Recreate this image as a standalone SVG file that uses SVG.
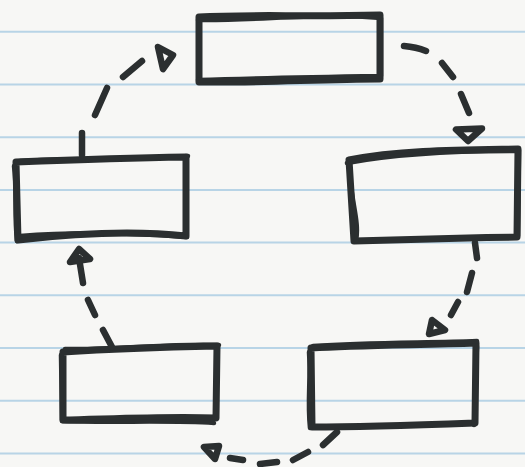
<svg xmlns="http://www.w3.org/2000/svg" width="525" height="467" viewBox="0 0 525 467">
<style>
.rule{stroke:#b8d4e6;stroke-width:2}
.box{fill:none;stroke:#2b2f30;stroke-width:7;stroke-linejoin:round;stroke-linecap:round}
.box2{fill:none;stroke:#2b2f30;stroke-width:4.5;stroke-linejoin:round;stroke-linecap:round}
.dash{fill:none;stroke:#2b2f30;stroke-width:6.5;stroke-linecap:round}
.head{fill:none;stroke:#2b2f30;stroke-width:6.5;stroke-linejoin:round}
</style>
<rect width="525" height="467" fill="#f7f7f5"/>
<g id="paper">
<line class="rule" x1="0" y1="31.8" x2="525" y2="31.8"/>
<line class="rule" x1="0" y1="84.5" x2="525" y2="84.5"/>
<line class="rule" x1="0" y1="137.2" x2="525" y2="137.2"/>
<line class="rule" x1="0" y1="189.9" x2="525" y2="189.9"/>
<line class="rule" x1="0" y1="242.6" x2="525" y2="242.6"/>
<line class="rule" x1="0" y1="295.3" x2="525" y2="295.3"/>
<line class="rule" x1="0" y1="348" x2="525" y2="348"/>
<line class="rule" x1="0" y1="400.7" x2="525" y2="400.7"/>
<line class="rule" x1="0" y1="453.4" x2="525" y2="453.4"/>
</g>
<g id="box-top">
<path class="box" d="M199,17 C250,14 300,17 380,15 L380,79 C320,79 260,83 199,82 Z"/>
<path class="box2" d="M198,20 C260,21 320,12 381,18 L381,76 C320,77 260,78 198,80"/>
</g>
<g id="box-right">
<path class="box" d="M349,160 C400,150 460,150 518,149 L517,237 C460,238 400,240 354,241 Z"/>
<path class="box2" d="M347,163 C400,153 460,151 516,151 M349,162 C350,200 360,220 356,241 M519,150 L518,236"/>
</g>
<g id="box-left">
<path class="box" d="M16,162 C70,160 130,158 186,157 L186,236 C130,230 70,234 18,240 Z"/>
<path class="box2" d="M14,166 C17,190 14,215 17,241 M20,161 C70,158 140,160 188,156 M20,236 C70,232 130,233 187,237"/>
</g>
<g id="box-bottom-left">
<path class="box" d="M63,352 C110,349 170,347 217,346 L216,418 C170,416 110,419 63,420 Z"/>
<path class="box2" d="M61,355 L62,420 M65,349 C120,350 170,343 219,345 M62,421 C110,423 170,420 214,423"/>
</g>
<g id="box-bottom-right">
<path class="box" d="M311,348 C360,345 420,345 476,343 L475,423 C420,425 360,427 312,427 Z"/>
<path class="box2" d="M309,352 C311,380 307,400 310,428 M313,346 C370,342 430,343 477,341 M477,346 L474,425"/>
</g>
<g id="connectors">
<path class="dash" d="M82,155 L82,133 M107,88 L95,115 M142,61 L123,77"/>
<path class="head" d="M158,47 L173,55 L163,69 Z"/>
<path class="dash" d="M404,46 Q416,47 426,51 M442,63 L453,77 M461,94 L469,113"/>
<path class="head" d="M456,129.5 L482,128.5 L468,141 Z"/>
<path class="dash" d="M475,243 L477,258 M472,273 L467,292 M458,302 L451,315"/>
<path class="head" d="M429,334 L432,320 L445,330 Z"/>
<path class="dash" d="M337,432 L323,445 M308,452 L293,460 M277,462 L260,464 M243,460 L230,458"/>
<path class="head" d="M204,447 L219,446 L215,459 Z"/>
<path class="dash" d="M112,347 L103,330 M95,315 L88,300 M83,283 L79,258"/>
<path class="head" d="M70,262 L79,249 L90,259 Z"/>
</g>
</svg>
